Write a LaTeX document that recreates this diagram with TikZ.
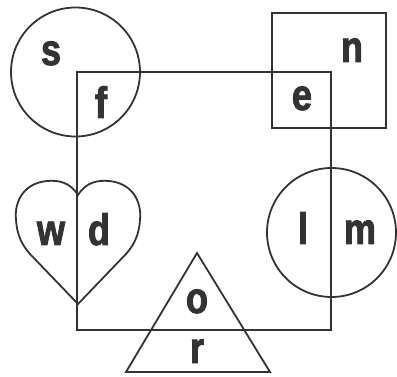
\documentclass[tikz,border=0pt]{standalone}
\usepackage{fontspec}
\newfontfamily\lblfont[FakeStretch=0.82,FakeBold=2]{Liberation Sans Bold}
\definecolor{ink}{HTML}{333333}

\begin{document}
\begin{tikzpicture}[x=1pt,y=-1pt,
        line width=1.8pt,draw=ink,
        lbl/.style={anchor=base,inner sep=0pt,text=ink,
            font=\lblfont\fontsize{44}{44}\selectfont}]
        \useasboundingbox (0,0) rectangle (397,377);

        % Большой квадрат.
        \draw[ink] (77,72) rectangle (331,330);

        % Круги.
        \draw[ink] (75.5,72) circle (64.5);
        \draw[ink] (331.5,232.5) circle (64.5);

        % Малый квадрат.
        \draw[ink] (272,13) rectangle (386,128);

        % Сердце.
        \draw[ink] (78,195)
            .. controls (70,182) and (58,180) .. (47,181)
            .. controls (25,183) and (14,200) .. (16,220)
            .. controls (17,235) and (22,245) .. (30,254)
            -- (78,304) -- (126,254)
            .. controls (134,245) and (139,235) .. (140,220)
            .. controls (142,200) and (131,183) .. (109,181)
            .. controls (98,180) and (86,182) .. (78,195) -- cycle;

        % Треугольник.
        \draw[ink] (197,253) -- (126,372) -- (270,372) -- cycle;

        \node[lbl] (s) at (51,65) {s};
        \node[lbl] (f) at (101,118) {f};
        \node[lbl] (n) at (352,62) {n};
        \node[lbl] (e) at (302,110) {e};
        \node[lbl] (w) at (51,245) {w};
        \node[lbl] (d) at (99,245) {d};
        \node[lbl] (l) at (303,244) {l};
        \node[lbl] (m) at (360,244) {m};
        \node[lbl] (o) at (197,313) {o};
        \node[lbl] (r) at (197,363) {r};
    \end{tikzpicture}
\end{document}
